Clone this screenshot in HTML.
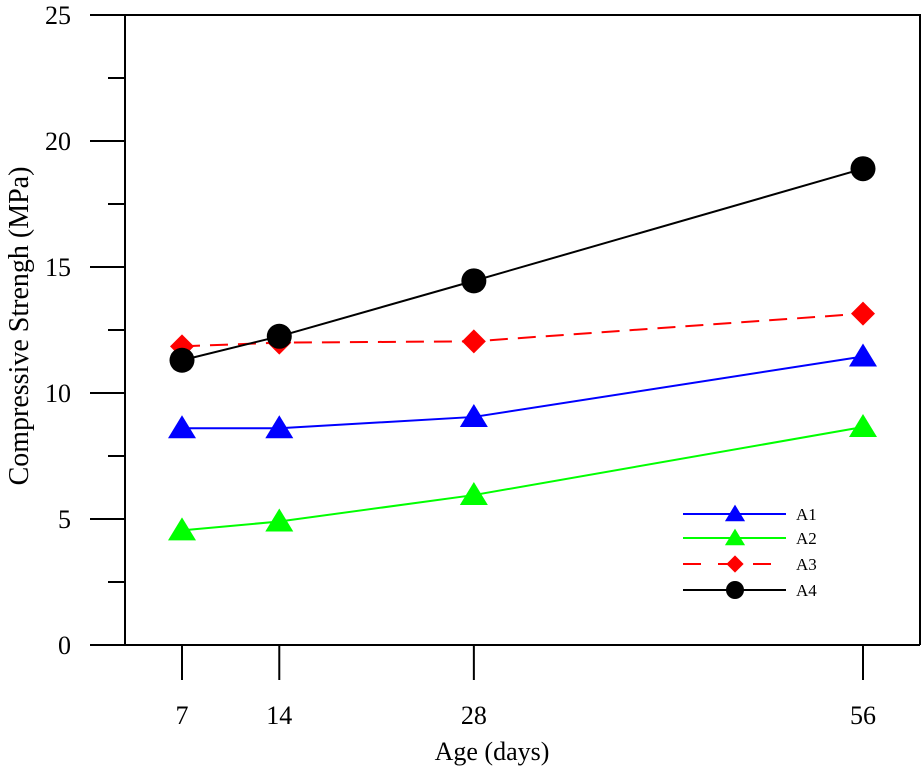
<!DOCTYPE html>
<html><head><meta charset="utf-8"><style>body{margin:0;background:#fff}svg{display:block;font-family:"Liberation Serif",serif}</style></head>
<body>
<svg id="c" width="922" height="773"></svg>
<script>
const days=[7,14,28,56];
const a1=[8.6,8.6,9.05,11.45];
const a2=[4.55,4.9,5.95,8.65];
const a3=[11.85,12.0,12.05,13.15];
const a4=[11.3,12.25,14.45,18.9];
const yTicks=[0,5,10,15,20,25];
const names=['A1','A2','A3','A4'];
const NS='http://www.w3.org/2000/svg';
const svg=document.getElementById('c');
const X=d=>182+(d-7)*(863-182)/49;
const Y=v=>645-v*(630/25);
function mk(t,a,p){const e=document.createElementNS(NS,t);for(const k in a)e.setAttribute(k,a[k]);(p||svg).appendChild(e);return e;}
let g=mk('g',{});


mk('path',{d:'M125,15H920V645M91,645H920M125,15V645',fill:'none',stroke:'#000','stroke-width':2},g);
yTicks.forEach(v=>{mk('line',{x1:90,x2:125,y1:Y(v),y2:Y(v),stroke:'#000','stroke-width':2},g);
 const t=mk('text',{x:71,y:Y(v)+9,'text-anchor':'end','font-size':26},g);t.textContent=v;
 
 if(v<25)mk('line',{x1:108,x2:125,y1:Y(v+2.5),y2:Y(v+2.5),stroke:'#000','stroke-width':2},g);});
days.forEach(d=>{mk('line',{x1:X(d),x2:X(d),y1:645,y2:680,stroke:'#000','stroke-width':2},g);
 const t=mk('text',{x:X(d),y:724,'text-anchor':'middle','font-size':26},g);t.textContent=d;
 });
let t=mk('text',{x:492,y:760,'text-anchor':'middle','font-size':26});t.textContent='Age (days)';

t=mk('text',{x:0,y:0,'text-anchor':'middle','font-size':28,transform:'translate(28,326) rotate(-90)'});t.textContent='Compressive Strengh (MPa)';

const series=[[a1,'#0000ff','tri',''],[a2,'#00ff00','tri',''],[a3,'#ff0000','dia','18 10'],[a4,'#000','cir','']];
function marker(type,x,y,c,s,p){if(type=='tri')return mk('polygon',{points:`${x},${y-13*s} ${x-14*s},${y+10*s} ${x+14*s},${y+10*s}`,fill:c},p);
 if(type=='dia')return mk('polygon',{points:`${x},${y-12*s} ${x+12*s},${y} ${x},${y+12*s} ${x-12*s},${y}`,fill:c},p);
 return mk('circle',{cx:x,cy:y,r:12.5*s,fill:c},p);}
series.forEach((s,i)=>{const sg=mk('g',{});
 
 mk('polyline',{points:s[0].map((v,j)=>X(days[j])+','+Y(v)).join(' '),fill:'none',stroke:s[1],'stroke-width':2,'stroke-dasharray':s[3]},sg);
 s[0].forEach((v,j)=>{const m=marker(s[2],X(days[j]),Y(v),s[1],1,sg);});
 const lg=mk('g',{});
 const ly=[514,538,564,590][i];
 mk('line',{x1:683,x2:786,y1:ly,y2:ly,stroke:s[1],'stroke-width':2,'stroke-dasharray':s[3]?'18 17':''},lg);
 marker(s[2],735,ly,s[1],0.72,lg);
 const lt=mk('text',{x:796,y:ly+6,'font-size':17},lg);lt.textContent=names[i];});
</script>
</body></html>
